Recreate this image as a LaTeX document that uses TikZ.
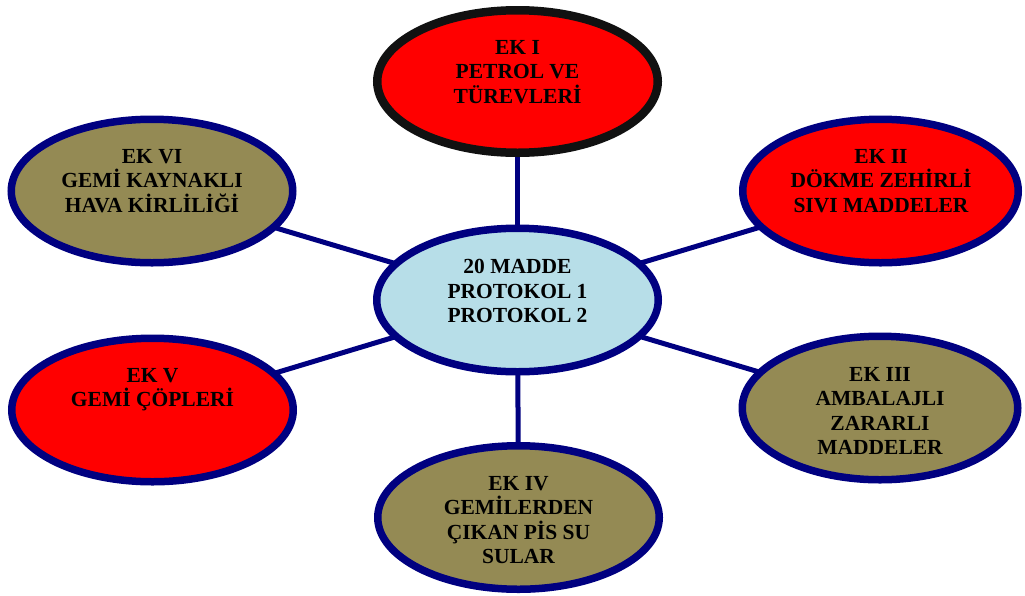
\documentclass[tikz,border=0pt]{standalone}
\usepackage{fontspec}
\setmainfont{Liberation Serif}
\usetikzlibrary{shapes.geometric,backgrounds,calc}
\definecolor{navyb}{HTML}{000080}
\definecolor{redf}{HTML}{FF0000}
\definecolor{olivef}{HTML}{948A54}
\definecolor{bluef}{HTML}{B7DEE8}
\definecolor{blackb}{HTML}{111111}
\tikzset{
  oval/.style={ellipse, draw=navyb, line width=7.5pt, inner sep=0pt,
    minimum width=281.5pt, minimum height=143.5pt},
  narrow/.style={minimum width=275.5pt},
  redoval/.style={oval, fill=redf},
  oliveoval/.style={oval, fill=olivef},
  centeroval/.style={oval, fill=bluef},
  txt/.style={anchor=north, inner sep=0pt, align=center,
    font=\bfseries\fontsize{21.5}{24.5}\selectfont},
  link/.style={draw=navyb, line width=5pt}
}
\begin{document}
\begin{tikzpicture}[x=1pt,y=-1pt]
\useasboundingbox (0,0) rectangle (1025,595);
% ellipses
\node[centeroval] (c) at (517.5,300) {};
\node[redoval, draw=blackb, line width=8.5pt, minimum width=280.5pt, minimum height=142.5pt] (e1) at (517.5,81.5) {};
\node[redoval, narrow] (e2) at (880.5,191) {};
\node[oliveoval, narrow] (e3) at (880,408) {};
\node[oliveoval] (e4) at (518.5,517.5) {};
\node[redoval] (e5) at (152.5,410) {};
\node[oliveoval] (e6) at (152,191) {};
% texts (top aligned inside ellipses)
\node[txt] (t0) at (517.5,259) {20 MADDE\\PROTOKOL 1\\PROTOKOL 2};
\node[txt] (t1) at (517.5,40) {EK I\\PETROL VE\\TÜREVLERİ};
\node[txt] (t2) at (881,149) {EK II\\DÖKME ZEHİRLİ\\SIVI MADDELER};
\node[txt] (t3) at (880,367) {EK III\\AMBALAJLI\\ZARARLI\\MADDELER};
\node[txt] (t4) at (518.5,476) {EK IV\\GEMİLERDEN\\ÇIKAN PİS SU\\SULAR};
\node[txt] (t5) at (152.5,368) {EK V\\GEMİ ÇÖPLERİ};
\node[txt] (t6) at (152,149) {EK VI\\GEMİ KAYNAKLI\\HAVA KİRLİLİĞİ};
% connectors
\begin{pgfonlayer}{background}
\foreach \n in {e1,e2,e3,e4,e5,e6}{
  \draw[link] (c.center) -- (\n.center);
}
\end{pgfonlayer}
\end{tikzpicture}
\end{document}
